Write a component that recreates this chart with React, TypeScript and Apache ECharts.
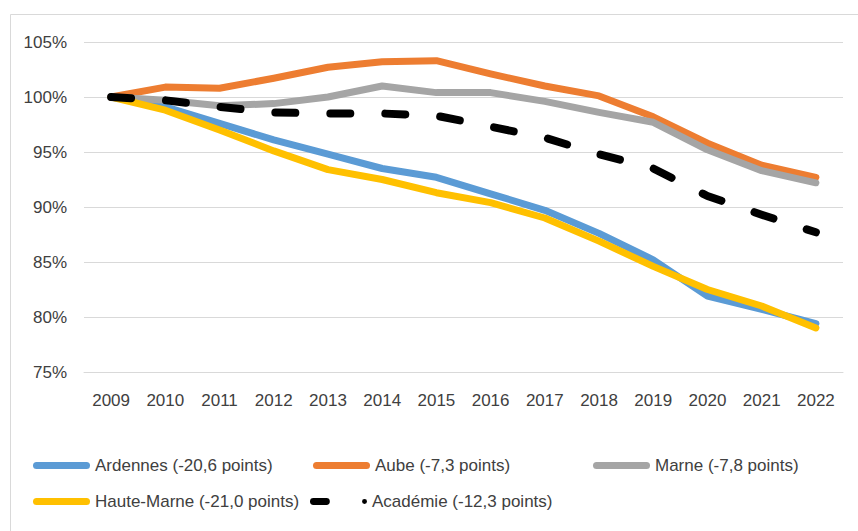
import React, { useEffect, useRef } from "react";
import * as echarts from "echarts";

const years = ["2009", "2010", "2011", "2012", "2013", "2014", "2015", "2016", "2017", "2018", "2019", "2020", "2021", "2022"];
const ardennes = [100, 99.1, 97.6, 96.1, 94.8, 93.5, 92.7, 91.2, 89.7, 87.6, 85.2, 81.9, 80.7, 79.4];
const aube = [100, 100.9, 100.8, 101.7, 102.7, 103.2, 103.3, 102.1, 101.0, 100.1, 98.2, 95.8, 93.8, 92.7];
const marne = [100, 99.7, 99.2, 99.4, 100.0, 101.0, 100.4, 100.4, 99.6, 98.6, 97.7, 95.2, 93.3, 92.2];
const hauteMarne = [100, 98.8, 97.0, 95.1, 93.4, 92.5, 91.3, 90.4, 89.0, 86.9, 84.6, 82.5, 81.0, 79.0];
const academie = [100, 99.7, 99.1, 98.6, 98.5, 98.5, 98.3, 97.3, 96.3, 94.8, 93.5, 91.0, 89.3, 87.7];

const names = [
  "Ardennes (-20,6 points)",
  "Aube (-7,3 points)",
  "Marne (-7,8 points)",
  "Haute-Marne (-21,0 points)",
  "Académie (-12,3 points)",
];
const colors = ["#5B9BD5", "#ED7D31", "#A5A5A5", "#FFC000", "#000000"];

const FONT = "'Liberation Sans', Arial, sans-serif";
const TEXT = "#404040";

const capsule = "path://M3.5,0 H53.5 A3.5,3.5 0 0 1 53.5,7 H3.5 A3.5,3.5 0 0 1 3.5,0 Z";
const dashDot =
  "path://M3.5,0 H16.5 A3.5,3.5 0 0 1 16.5,7 H3.5 A3.5,3.5 0 0 1 3.5,0 Z M52.5,3.5 A2.5,2.5 0 1 0 57.5,3.5 A2.5,2.5 0 1 0 52.5,3.5 Z";

export default function App() {
  const ref = useRef<HTMLDivElement>(null);
  useEffect(() => {
    if (!ref.current) return;
    const chart = echarts.init(ref.current, null, { renderer: "svg" });
    const seriesData = [ardennes, aube, marne, hauteMarne, academie];
    const legendPos = [
      { left: 33, top: 457 },
      { left: 313, top: 457 },
      { left: 593, top: 457 },
      { left: 33, top: 493 },
      { left: 310, top: 493 },
    ];
    chart.setOption({
      animation: false,
      backgroundColor: "#ffffff",
      textStyle: { fontFamily: FONT },
      grid: { left: 84, right: 15, top: 42, bottom: 159, containLabel: false },
      xAxis: {
        type: "category",
        data: years,
        boundaryGap: true,
        axisLine: { show: true, lineStyle: { color: "#d9d9d9", width: 1 } },
        axisTick: { show: false },
        axisLabel: { color: TEXT, fontSize: 17, fontFamily: FONT, margin: 20, interval: 0 },
      },
      yAxis: {
        type: "value",
        min: 75,
        max: 105,
        interval: 5,
        axisLine: { show: false },
        axisTick: { show: false },
        splitLine: { lineStyle: { color: "#d9d9d9", width: 1 } },
        axisLabel: {
          color: TEXT,
          fontSize: 17,
          fontFamily: FONT,
          margin: 17,
          formatter: (v: number) => v + "%",
        },
      },
      legend: names.map((n, i) => ({
        data: [{ name: n, icon: i === 4 ? dashDot : capsule }],
        left: legendPos[i].left,
        top: legendPos[i].top,
        padding: 0,
        itemWidth: 57,
        itemHeight: 7,
        selectedMode: false,
        itemStyle: { color: colors[i], borderWidth: 0 },
        lineStyle: { width: 0 },
        textStyle: { color: TEXT, fontSize: 17, fontFamily: FONT },
      })),
      graphic: [
        {
          type: "rect",
          shape: { x: 10.5, y: 14.5, width: 900, height: 600 },
          style: { fill: "none", stroke: "#d9d9d9", lineWidth: 1 },
          silent: true,
          z: -10,
        },
      ],
      series: seriesData.map((d, i) => ({
        name: names[i],
        type: "line",
        data: d,
        symbol: "none",
        color: colors[i],
        itemStyle: { color: colors[i] },
        lineStyle:
          i === 4
            ? { color: colors[i], width: 8, type: [20, 35], cap: "round", join: "round" }
            : { color: colors[i], width: 7, cap: "round", join: "round" },
        z: 2 + i,
      })),
    });
    return () => chart.dispose();
  }, []);
  return (
    <div
      ref={ref}
      style={{ position: "fixed", left: 0, top: 0, width: 858, height: 531 }}
    />
  );
}
